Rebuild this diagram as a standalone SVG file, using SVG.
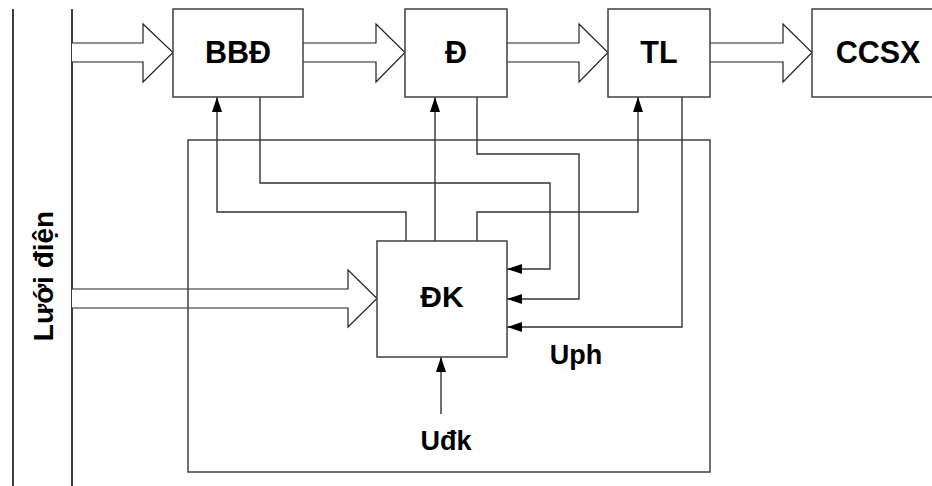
<svg xmlns="http://www.w3.org/2000/svg" width="932" height="486" viewBox="0 0 932 486">
<style>
.box{fill:#fff;stroke:#404040;stroke-width:1.5}
.frame{fill:none;stroke:#404040;stroke-width:1.5}
.big{fill:#fff;stroke:#222;stroke-width:1.2;stroke-linejoin:miter}
.ln{fill:none;stroke:#333;stroke-width:1.4}
.rail{fill:none;stroke:#000;stroke-width:1.5}
.lbl{font-family:"Liberation Sans",Arial,sans-serif;font-weight:bold;fill:#000;text-anchor:middle}
</style>
<defs>
<marker id="ah" markerUnits="userSpaceOnUse" markerWidth="16" markerHeight="11" refX="15" refY="5" orient="auto">
<path d="M0,0 L15,5 L0,10 z" fill="#000"/>
</marker>
</defs>
<g id="rails">
<line class="rail" x1="13" y1="9" x2="13" y2="486"/>
<line class="rail" x1="72" y1="9" x2="72" y2="486"/>
</g>
<g id="luoi-dien">
<text class="lbl" font-size="28" transform="translate(53,276) rotate(-90)">Lưới điện</text>
</g>
<g id="big-arrows">
<path class="big" d="M72,43 H143 V24 L173,52.5 L143,82 V62 H72"/>
<path class="big" d="M303,43 H376 V24 L405,52.5 L376,82 V62 H303"/>
<path class="big" d="M507,43 H579 V24 L608,52.5 L579,82 V62 H507"/>
<path class="big" d="M710,43 H783 V24 L812,52.5 L783,82 V62 H710"/>
<path class="big" d="M72,289 H348 V270 L377,298.5 L348,327 V308 H72"/>
</g>
<g id="frame">
<rect class="frame" x="188" y="140" width="522" height="332"/>
</g>
<g id="connectors">
<polyline class="ln" points="406,241 406,212 217,212 217,97" marker-end="url(#ah)"/>
<polyline class="ln" points="260,97 260,183 550,183 550,269 507,269" marker-end="url(#ah)"/>
<polyline class="ln" points="435,241 435,97" marker-end="url(#ah)"/>
<polyline class="ln" points="477,97 477,154 579,154 579,299 507,299" marker-end="url(#ah)"/>
<polyline class="ln" points="477,241 477,212 638,212 638,97" marker-end="url(#ah)"/>
<polyline class="ln" points="682,97 682,327 507,327" marker-end="url(#ah)"/>
<polyline class="ln" points="441,414 441,357" marker-end="url(#ah)"/>
</g>
<g id="BBD">
<rect class="box" x="173" y="9" width="130" height="88"/>
<text class="lbl" font-size="30.5" x="238" y="63">BBĐ</text>
</g>
<g id="D">
<rect class="box" x="405" y="9" width="102" height="88"/>
<text class="lbl" font-size="30.5" x="456" y="63">Đ</text>
</g>
<g id="TL">
<rect class="box" x="608" y="9" width="102" height="88"/>
<text class="lbl" font-size="30.5" x="659" y="63">TL</text>
</g>
<g id="CCSX">
<rect class="box" x="812" y="9" width="130" height="88"/>
<text class="lbl" font-size="30.5" x="878" y="63">CCSX</text>
</g>
<g id="DK">
<rect class="box" x="377" y="241" width="130" height="116"/>
<text class="lbl" font-size="30" x="442" y="307">ĐK</text>
</g>
<g id="Uph">
<text class="lbl" font-size="27" x="576" y="364">Uph</text>
</g>
<g id="Udk">
<text class="lbl" font-size="27" x="446" y="450">Uđk</text>
</g>
</svg>
